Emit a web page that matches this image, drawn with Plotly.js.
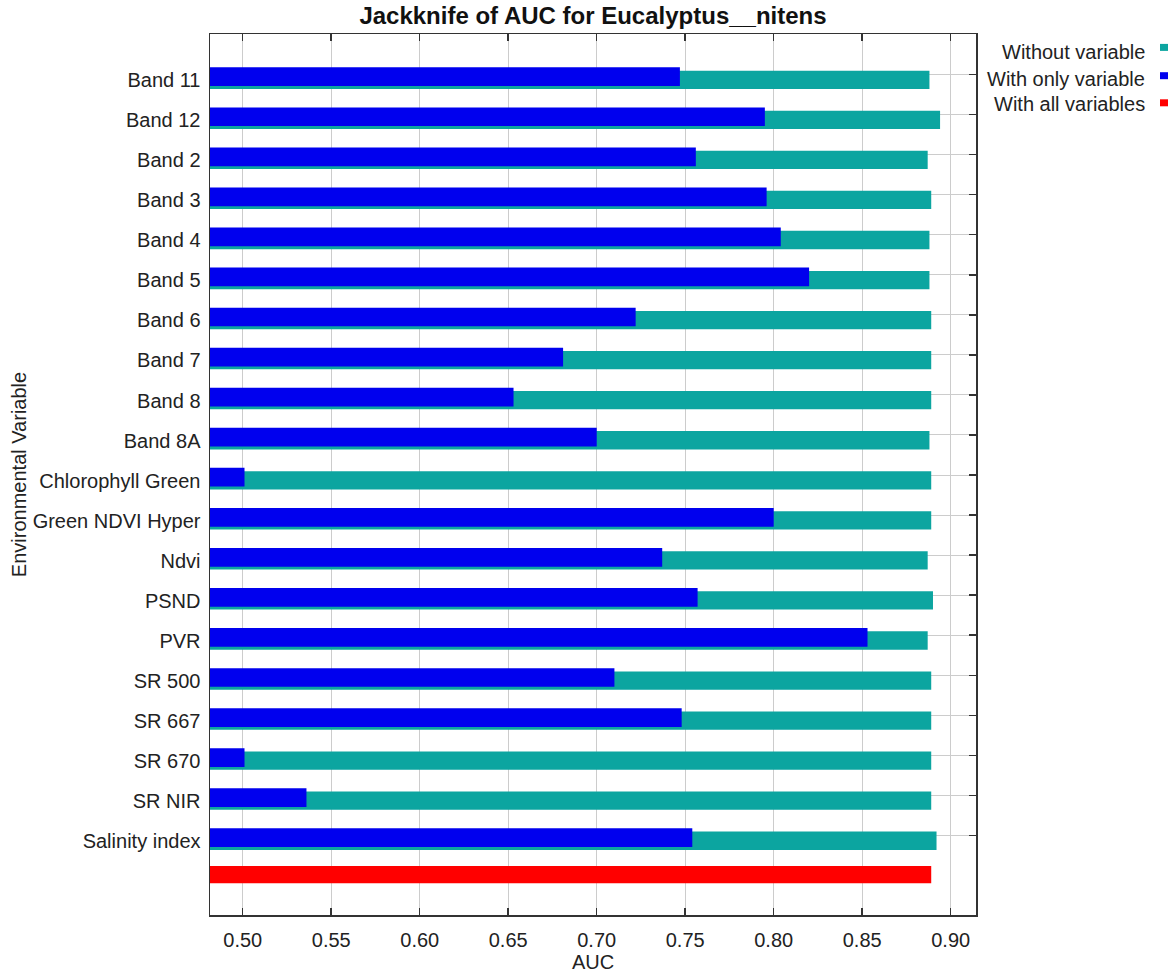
<!DOCTYPE html>
<html>
<head>
<meta charset="utf-8">
<script src="https://cdn.plot.ly/plotly-3.0.1.min.js"></script>
<style>html,body{margin:0;padding:0;background:#fff;}#chart{width:1174px;height:976px;}</style>
</head>
<body>
<div id="chart"></div>
<script>
// ---- data ----
const variables = ['Band 11','Band 12','Band 2','Band 3','Band 4','Band 5','Band 6','Band 7','Band 8','Band 8A',
  'Chlorophyll Green','Green NDVI Hyper','Ndvi','PSND','PVR','SR 500','SR 667','SR 670','SR NIR','Salinity index'];
const withoutVariable = [0.888,0.894,0.887,0.889,0.888,0.888,0.889,0.889,0.889,0.888,
  0.889,0.889,0.887,0.890,0.887,0.889,0.889,0.889,0.889,0.892];
const withOnlyVariable = [0.747,0.795,0.756,0.796,0.804,0.820,0.722,0.681,0.653,0.700,
  0.501,0.800,0.737,0.757,0.853,0.710,0.748,0.501,0.536,0.754];
const withAllVariables = [0.889];
const xTickVals = [0.50,0.55,0.60,0.65,0.70,0.75,0.80,0.85,0.90];
const xTickText = ['0.50','0.55','0.60','0.65','0.70','0.75','0.80','0.85','0.90'];
const legendLabels = ['Without variable','With only variable','With all variables'];
const colors = {without:'#0ca5a0', only:'#0000ee', all:'#ff0000'};

// ---- positions on the category axis ----
const pos = variables.map((_, i) => i);
const allPos = [variables.length];
const labelPos = pos.map(p => p + 0.14);
const yRange = [20.986, -1.011];

const FONT = 'Liberation Sans, Arial, sans-serif';
const TXT = '#222';

const traces = [
  {type:'bar', orientation:'h', name:'Without variable', x:withoutVariable, y:pos,
   offset:-0.096, width:0.457, marker:{color:colors.without}, showlegend:false, hoverinfo:'x'},
  {type:'bar', orientation:'h', name:'With only variable', x:withOnlyVariable, y:pos,
   offset:-0.178, width:0.467, marker:{color:colors.only}, showlegend:false, hoverinfo:'x'},
  {type:'bar', orientation:'h', name:'With all variables', x:withAllVariables, y:allPos,
   offset:-0.236, width:0.432, marker:{color:colors.all}, showlegend:false, hoverinfo:'x'},
  {type:'scatter', mode:'markers', x:withoutVariable, y:pos, yaxis:'y2',
   marker:{opacity:0}, hoverinfo:'skip', showlegend:false}
];

// legend drawn at the top right, text on the left of the swatch
const plotL = 210, plotR = 976, plotT = 34, plotB = 915;
const pw = plotR - plotL, ph = plotB - plotT;
const legTextY = [51.5, 78.5, 104.5];
const legSwY = [47.4, 75.7, 102.8];
const legColors = [colors.without, colors.only, colors.all];
const annotations = legendLabels.map((t, i) => ({
  text:t, xref:'paper', yref:'paper', x:(1147 - plotL)/pw, y:(plotB - legTextY[i])/ph,
  xanchor:'right', yanchor:'middle', align:'right', showarrow:false,
  font:{family:FONT, size:20, color:TXT}
}));
const shapes = legendLabels.map((t, i) => ({
  type:'rect', xref:'paper', yref:'paper',
  x0:(1160 - plotL)/pw, x1:(1168 - plotL)/pw,
  y0:(plotB - legSwY[i] - 3.5)/ph, y1:(plotB - legSwY[i] + 3.5)/ph,
  fillcolor:legColors[i], line:{width:0}
}));

const layout = {
  width:1174, height:976,
  margin:{l:plotL, r:1174 - plotR, t:plotT, b:976 - plotB},
  paper_bgcolor:'#fff', plot_bgcolor:'#fff',
  barmode:'overlay',
  font:{family:FONT, size:20, color:TXT},
  title:{text:'Jackknife of AUC for Eucalyptus__nitens', x:0.5, xref:'paper', xanchor:'center',
         y:1 - 16/976, yref:'container', yanchor:'middle',
         font:{family:FONT, size:24, weight:700, color:'#111'}},
  xaxis:{range:[0.4815, 0.9143], tickvals:xTickVals, ticktext:xTickText,
         ticks:'inside', ticklen:7, tickwidth:1.5, tickcolor:'#333', mirror:'ticks',
         showline:true, linecolor:'#333', linewidth:1.5,
         showgrid:true, gridcolor:'#cccccc', gridwidth:1, zeroline:false,
         tickfont:{family:FONT, size:20, color:TXT}, ticklabelstandoff:6,
         title:{text:'AUC', font:{family:FONT, size:20, color:TXT}, standoff:5}},
  yaxis:{range:yRange, tickvals:labelPos, ticktext:variables, ticks:'',
         showline:true, mirror:true, linecolor:'#333', linewidth:1.5,
         showgrid:false, zeroline:false, ticklabelstandoff:4,
         tickfont:{family:FONT, size:20, color:TXT},
         title:{text:'Environmental Variable', font:{family:FONT, size:20, color:TXT}, standoff:0}},
  yaxis2:{overlaying:'y', side:'right', range:yRange, tickvals:pos, ticktext:variables,
          ticks:'inside', ticklen:7, tickwidth:1.5, tickcolor:'#333', showticklabels:false,
          showgrid:true, gridcolor:'#cccccc', gridwidth:1, showline:false, zeroline:false},
  annotations:annotations,
  shapes:shapes
};

Plotly.newPlot('chart', traces, layout, {displayModeBar:false, staticPlot:true});
</script>
</body>
</html>
